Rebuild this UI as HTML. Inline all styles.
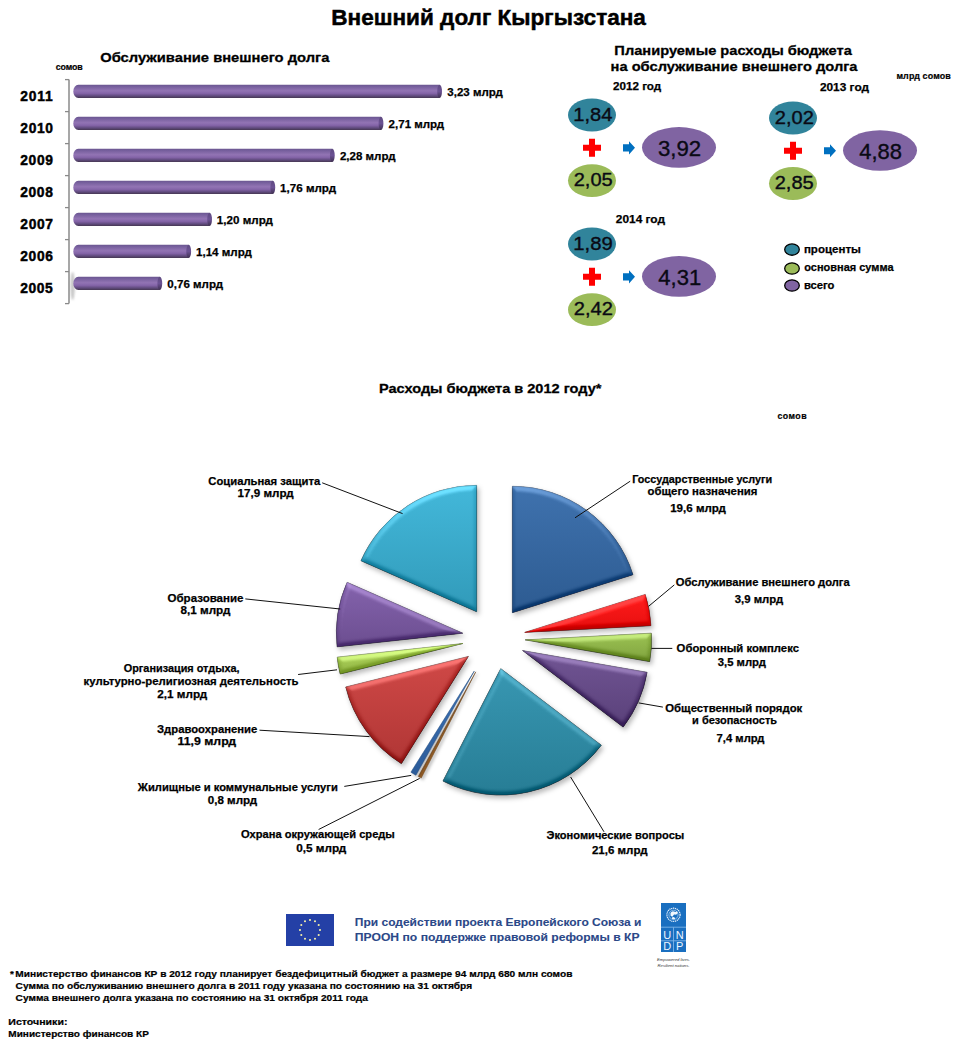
<!DOCTYPE html>
<html><head><meta charset="utf-8"><title>Внешний долг Кыргызстана</title>
<style>html,body{margin:0;padding:0;background:#fff;} body{width:970px;height:1050px;overflow:hidden;font-family:"Liberation Sans",sans-serif;} svg{display:block;}</style>
</head><body>
<svg width="970" height="1050" viewBox="0 0 970 1050" font-family="Liberation Sans, sans-serif">
<defs>
<linearGradient id="barg" x1="0" y1="0" x2="0" y2="1">
 <stop offset="0" stop-color="#6a5690"/><stop offset="0.12" stop-color="#755e9c"/>
 <stop offset="0.45" stop-color="#9274b4"/><stop offset="0.65" stop-color="#8464a8"/>
 <stop offset="0.85" stop-color="#5f4a7c"/><stop offset="1" stop-color="#463752"/>
</linearGradient>
<linearGradient id="capg" x1="0" y1="0" x2="0" y2="1">
 <stop offset="0" stop-color="#5e4a80"/><stop offset="0.5" stop-color="#6c5294"/><stop offset="1" stop-color="#3f3050"/>
</linearGradient>
<filter id="sblur" x="-200%" y="-50%" width="500%" height="200%"><feGaussianBlur stdDeviation="1.2"/></filter>
<filter id="bv" filterUnits="userSpaceOnUse" x="300" y="440" width="400" height="420" color-interpolation-filters="sRGB">
  <feGaussianBlur in="SourceAlpha" stdDeviation="2.6" result="blur"/>
  <feDiffuseLighting in="blur" surfaceScale="5" diffuseConstant="0.707" lighting-color="#fff" result="diff">
    <feDistantLight azimuth="265" elevation="45"/>
  </feDiffuseLighting>
  <feComponentTransfer in="diff" result="diff2">
    <feFuncR type="table" tableValues="0.36 0.5 0.92"/>
    <feFuncG type="table" tableValues="0.36 0.5 0.92"/>
    <feFuncB type="table" tableValues="0.36 0.5 0.92"/>
  </feComponentTransfer>
  <feComposite in="SourceGraphic" in2="diff2" operator="arithmetic" k1="0" k2="1" k3="1" k4="-0.5" result="lit"/>
  <feComposite in="lit" in2="SourceAlpha" operator="in" result="litIn"/>
  <feGaussianBlur in="SourceAlpha" stdDeviation="2.5" result="sb"/>
  <feOffset in="sb" dx="1.5" dy="3" result="so"/>
  <feFlood flood-color="#000" flood-opacity="0.28"/>
  <feComposite in2="so" operator="in" result="shadow"/>
  <feMerge><feMergeNode in="shadow"/><feMergeNode in="litIn"/></feMerge>
</filter>
<filter id="bvs" filterUnits="userSpaceOnUse" x="300" y="440" width="400" height="420" color-interpolation-filters="sRGB">
  <feGaussianBlur in="SourceAlpha" stdDeviation="1.5" result="sb"/>
  <feOffset in="sb" dx="1.5" dy="2" result="so"/>
  <feFlood flood-color="#000" flood-opacity="0.25"/>
  <feComposite in2="so" operator="in" result="shadow"/>
  <feMerge><feMergeNode in="shadow"/><feMergeNode in="SourceGraphic"/></feMerge>
</filter>
<linearGradient id="g_gos" x1="0" y1="0" x2="0" y2="1"><stop offset="0" stop-color="#3f72ae"/><stop offset="1" stop-color="#2d5b91"/></linearGradient><linearGradient id="g_debt" x1="0" y1="0" x2="0" y2="1"><stop offset="0" stop-color="#ff1c1c"/><stop offset="1" stop-color="#e50e0e"/></linearGradient><linearGradient id="g_def" x1="0" y1="0" x2="0" y2="1"><stop offset="0" stop-color="#9bc252"/><stop offset="1" stop-color="#80a33f"/></linearGradient><linearGradient id="g_ord" x1="0" y1="0" x2="0" y2="1"><stop offset="0" stop-color="#715594"/><stop offset="1" stop-color="#5a417a"/></linearGradient><linearGradient id="g_eco" x1="0" y1="0" x2="0" y2="1"><stop offset="0" stop-color="#3897b2"/><stop offset="1" stop-color="#277d95"/></linearGradient><linearGradient id="g_env" x1="0" y1="0" x2="0" y2="1"><stop offset="0" stop-color="#ac7236"/><stop offset="1" stop-color="#905b25"/></linearGradient><linearGradient id="g_hou" x1="0" y1="0" x2="0" y2="1"><stop offset="0" stop-color="#3c72b6"/><stop offset="1" stop-color="#2b5b99"/></linearGradient><linearGradient id="g_hea" x1="0" y1="0" x2="0" y2="1"><stop offset="0" stop-color="#d04947"/><stop offset="1" stop-color="#b03635"/></linearGradient><linearGradient id="g_rec" x1="0" y1="0" x2="0" y2="1"><stop offset="0" stop-color="#b2d95c"/><stop offset="1" stop-color="#95b848"/></linearGradient><linearGradient id="g_edu" x1="0" y1="0" x2="0" y2="1"><stop offset="0" stop-color="#8463ad"/><stop offset="1" stop-color="#6c4e90"/></linearGradient><linearGradient id="g_soc" x1="0" y1="0" x2="0" y2="1"><stop offset="0" stop-color="#43b8da"/><stop offset="1" stop-color="#319ab9"/></linearGradient></defs>
<rect width="970" height="1050" fill="#fff"/>
<ellipse cx="72.6" cy="286" rx="2.2" ry="14" fill="#9a9a9a" opacity="0.55" filter="url(#sblur)"/>
<path d="M69,79.6 L69,303.6" stroke="#8a8a8a" stroke-width="1.5" fill="none"/>
<path d="M65,79.6 L69,79.6" stroke="#8a8a8a" stroke-width="1.3"/>
<path d="M65,111.6 L69,111.6" stroke="#8a8a8a" stroke-width="1.3"/>
<path d="M65,143.6 L69,143.6" stroke="#8a8a8a" stroke-width="1.3"/>
<path d="M65,175.6 L69,175.6" stroke="#8a8a8a" stroke-width="1.3"/>
<path d="M65,207.6 L69,207.6" stroke="#8a8a8a" stroke-width="1.3"/>
<path d="M65,239.6 L69,239.6" stroke="#8a8a8a" stroke-width="1.3"/>
<path d="M65,271.6 L69,271.6" stroke="#8a8a8a" stroke-width="1.3"/>
<path d="M65,303.6 L69,303.6" stroke="#8a8a8a" stroke-width="1.3"/>
<path d="M78.3,84.8 L439.6,84.8 L439.6,98.0 L78.3,98.0 A5,6.6 0 0 1 78.3,84.8 Z" fill="url(#barg)"/>
<ellipse cx="439.6" cy="91.4" rx="2.4" ry="6.6" fill="url(#capg)"/>
<path d="M78.3,116.8 L381.0,116.8 L381.0,130.0 L78.3,130.0 A5,6.6 0 0 1 78.3,116.8 Z" fill="url(#barg)"/>
<ellipse cx="381.0" cy="123.4" rx="2.4" ry="6.6" fill="url(#capg)"/>
<path d="M78.3,148.8 L332.3,148.8 L332.3,162.0 L78.3,162.0 A5,6.6 0 0 1 78.3,148.8 Z" fill="url(#barg)"/>
<ellipse cx="332.3" cy="155.4" rx="2.4" ry="6.6" fill="url(#capg)"/>
<path d="M78.3,180.8 L272.8,180.8 L272.8,194.0 L78.3,194.0 A5,6.6 0 0 1 78.3,180.8 Z" fill="url(#barg)"/>
<ellipse cx="272.8" cy="187.4" rx="2.4" ry="6.6" fill="url(#capg)"/>
<path d="M78.3,212.8 L209.6,212.8 L209.6,226.0 L78.3,226.0 A5,6.6 0 0 1 78.3,212.8 Z" fill="url(#barg)"/>
<ellipse cx="209.6" cy="219.4" rx="2.4" ry="6.6" fill="url(#capg)"/>
<path d="M78.3,244.8 L188.7,244.8 L188.7,258.0 L78.3,258.0 A5,6.6 0 0 1 78.3,244.8 Z" fill="url(#barg)"/>
<ellipse cx="188.7" cy="251.4" rx="2.4" ry="6.6" fill="url(#capg)"/>
<path d="M78.3,276.8 L159.8,276.8 L159.8,290.0 L78.3,290.0 A5,6.6 0 0 1 78.3,276.8 Z" fill="url(#barg)"/>
<ellipse cx="159.8" cy="283.4" rx="2.4" ry="6.6" fill="url(#capg)"/>
<ellipse cx="592" cy="115" rx="24" ry="16.6" fill="#31849b"/>
<ellipse cx="592" cy="180.6" rx="24" ry="16.4" fill="#9bbb59"/>
<ellipse cx="679" cy="147.4" rx="37" ry="20.3" fill="#8064a2"/>
<path d="M589,138.8 h6 v6 h6 v6 h-6 v6 h-6 v-6 h-6 v-6 h6 Z" fill="#ff0000"/>
<path d="M623,144.20000000000002 h6 v-3 l6,6.6 l-6,6.6 v-3 h-6 Z" fill="#0070c0"/>
<ellipse cx="793" cy="118" rx="24" ry="16.6" fill="#31849b"/>
<ellipse cx="793" cy="183.5" rx="24" ry="16.4" fill="#9bbb59"/>
<ellipse cx="880" cy="150.5" rx="37" ry="20.3" fill="#8064a2"/>
<path d="M790,141.75 h6 v6 h6 v6 h-6 v6 h-6 v-6 h-6 v-6 h6 Z" fill="#ff0000"/>
<path d="M824,147.15 h6 v-3 l6,6.6 l-6,6.6 v-3 h-6 Z" fill="#0070c0"/>
<ellipse cx="592" cy="244" rx="24" ry="16.6" fill="#31849b"/>
<ellipse cx="592" cy="309.7" rx="24" ry="16.4" fill="#9bbb59"/>
<ellipse cx="679" cy="276.4" rx="37" ry="20.3" fill="#8064a2"/>
<path d="M589,267.85 h6 v6 h6 v6 h-6 v6 h-6 v-6 h-6 v-6 h6 Z" fill="#ff0000"/>
<path d="M623,273.25 h6 v-3 l6,6.6 l-6,6.6 v-3 h-6 Z" fill="#0070c0"/>
<ellipse cx="792" cy="249.6" rx="7.3" ry="5.65" fill="#31849b" stroke="#000" stroke-width="1.3"/>
<ellipse cx="792" cy="268.5" rx="7.3" ry="5.65" fill="#9bbb59" stroke="#000" stroke-width="1.3"/>
<ellipse cx="792" cy="285.5" rx="7.3" ry="5.65" fill="#8064a2" stroke="#000" stroke-width="1.3"/>
<path d="M512.37,612.68 L512.37,486.28 A126.4,126.4 0 0 1 632.93,574.71 Z" fill="url(#g_gos)" stroke="#244c80" stroke-width="0.7" filter="url(#bv)"/>
<path d="M524.70,632.40 L645.26,594.43 A126.4,126.4 0 0 1 650.92,625.67 Z" fill="url(#g_debt)" stroke="#b00000" stroke-width="0.7" filter="url(#bv)"/>
<path d="M525.14,639.87 L651.36,633.14 A126.4,126.4 0 0 1 649.66,661.60 Z" fill="url(#g_def)" stroke="#5d7a28" stroke-width="0.7" filter="url(#bv)"/>
<path d="M522.58,650.56 L647.10,672.29 A126.4,126.4 0 0 1 623.16,727.12 Z" fill="url(#g_ord)" stroke="#3f2c5a" stroke-width="0.7" filter="url(#bv)"/>
<path d="M500.74,668.62 L601.32,745.18 A126.4,126.4 0 0 1 442.97,781.05 Z" fill="url(#g_eco)" stroke="#1b5d70" stroke-width="0.7" filter="url(#bv)"/>
<path d="M475.72,671.88 L421.24,778.12 A126.4,126.4 0 0 1 418.22,776.52 Z" fill="url(#g_env)" stroke="#6a4018" stroke-width="0.5" filter="url(#bvs)"/>
<path d="M474.28,671.07 L415.91,775.23 A126.4,126.4 0 0 1 410.86,772.24 Z" fill="url(#g_hou)" stroke="#20487a" stroke-width="0.5" filter="url(#bvs)"/>
<path d="M468.39,656.45 L401.40,763.64 A126.4,126.4 0 0 1 345.73,686.96 Z" fill="url(#g_hea)" stroke="#8a2422" stroke-width="0.7" filter="url(#bv)"/>
<path d="M462.88,643.50 L340.22,674.01 A126.4,126.4 0 0 1 337.22,657.14 Z" fill="url(#g_rec)" stroke="#6f8f2c" stroke-width="0.7" filter="url(#bv)"/>
<path d="M462.77,633.20 L337.11,646.85 A126.4,126.4 0 0 1 347.09,582.25 Z" fill="url(#g_edu)" stroke="#4d3670" stroke-width="0.7" filter="url(#bv)"/>
<path d="M476.65,611.70 L360.97,560.75 A126.4,126.4 0 0 1 476.65,485.30 Z" fill="url(#g_soc)" stroke="#1f7a94" stroke-width="0.7" filter="url(#bv)"/>
<path d="M322.2,482.8 L402.6,513.6" stroke="#111" stroke-width="1" fill="none"/>
<path d="M245.3,598.9 L340.2,609" stroke="#111" stroke-width="1" fill="none"/>
<path d="M298.1,674.5 L337,669.8" stroke="#111" stroke-width="1" fill="none"/>
<path d="M259.5,730.2 L369.5,736.6" stroke="#111" stroke-width="1" fill="none"/>
<path d="M344.3,786.4 L411.2,775.4" stroke="#111" stroke-width="1" fill="none"/>
<path d="M318.6,829.5 L419.7,778.4" stroke="#111" stroke-width="1" fill="none"/>
<path d="M570.6,777 L604,831.8" stroke="#111" stroke-width="1" fill="none"/>
<path d="M575,517.8 L630.2,481.2" stroke="#111" stroke-width="1" fill="none"/>
<path d="M648.6,606.3 L674.3,584.9" stroke="#111" stroke-width="1" fill="none"/>
<path d="M651.4,648.4 L672.3,648.4" stroke="#111" stroke-width="1" fill="none"/>
<path d="M638.6,702.9 L662.9,707.1" stroke="#111" stroke-width="1" fill="none"/>
<rect x="286" y="914" width="48" height="32" fill="#2440a6"/>
<circle cx="310.0" cy="920.0" r="1.05" fill="#f4f0a8"/>
<circle cx="315.0" cy="921.3" r="1.05" fill="#f4f0a8"/>
<circle cx="318.7" cy="925.0" r="1.05" fill="#f4f0a8"/>
<circle cx="320.0" cy="930.0" r="1.05" fill="#f4f0a8"/>
<circle cx="318.7" cy="935.0" r="1.05" fill="#f4f0a8"/>
<circle cx="315.0" cy="938.7" r="1.05" fill="#f4f0a8"/>
<circle cx="310.0" cy="940.0" r="1.05" fill="#f4f0a8"/>
<circle cx="305.0" cy="938.7" r="1.05" fill="#f4f0a8"/>
<circle cx="301.3" cy="935.0" r="1.05" fill="#f4f0a8"/>
<circle cx="300.0" cy="930.0" r="1.05" fill="#f4f0a8"/>
<circle cx="301.3" cy="925.0" r="1.05" fill="#f4f0a8"/>
<circle cx="305.0" cy="921.3" r="1.05" fill="#f4f0a8"/>
<rect x="661" y="903" width="25" height="49" fill="#1a6fc0"/>
<path d="M661,927.2 H686 M661,940.8 H686 M673.5,927.2 V952" stroke="#7fb4e8" stroke-width="0.9"/>
<circle cx="673.5" cy="914.8" r="6.6" fill="none" stroke="#e6f0fb" stroke-width="1.3" stroke-dasharray="1.2 0.7"/>
<circle cx="673.5" cy="914.8" r="4.6" fill="none" stroke="#cfe2f6" stroke-width="0.6"/>
<path d="M670.5,913 q1.5,-2.5 3.5,-1.5 q2,1 3,-0.5 l0.8,2 q-1.2,2.2 -2.8,1.6 q-1.6,-0.6 -2,1.6 q-1.6,0.6 -2.5,-0.8 z" fill="#f2f7fd"/>
<path d="M672,917.5 q1.2,-1 2.6,0 l0.6,1.4 q-1.6,0.8 -3.2,-0.2 z" fill="#f2f7fd"/>
<text x="667.3" y="938.6" font-size="11" fill="#eef5ff" text-anchor="middle">U</text>
<text x="679.7" y="938.6" font-size="11" fill="#eef5ff" text-anchor="middle">N</text>
<text x="667.3" y="950.4" font-size="11" fill="#eef5ff" text-anchor="middle">D</text>
<text x="679.7" y="950.4" font-size="11" fill="#eef5ff" text-anchor="middle">P</text>
<text x="673.5" y="961" font-size="4.2" font-style="italic" fill="#333" text-anchor="middle">Empowered lives.</text>
<text x="673.5" y="966.5" font-size="4.2" font-style="italic" fill="#333" text-anchor="middle">Resilient nations.</text>
<text x="331.30" y="24.90" font-size="22.4" font-weight="bold" fill="#000" textLength="314.56" lengthAdjust="spacingAndGlyphs"  stroke="#000" stroke-width="0.49">Внешний долг Кыргызстана</text>
<text x="100.24" y="61.60" font-size="13.7" font-weight="bold" fill="#000" textLength="229.17" lengthAdjust="spacingAndGlyphs"  stroke="#000" stroke-width="0.30">Обслуживание внешнего долга</text>
<text x="55.66" y="70.00" font-size="8.8" font-weight="bold" fill="#000" textLength="26.99" lengthAdjust="spacing"  stroke="#000" stroke-width="0.19">сомов</text>
<text x="20.32" y="100.60" font-size="13.8" font-weight="bold" fill="#000" textLength="32.46" lengthAdjust="spacing" stroke="#000" stroke-width="0.45">2011</text>
<text x="447.34" y="96.00" font-size="11.4" font-weight="bold" fill="#000" textLength="55.47" lengthAdjust="spacingAndGlyphs"  stroke="#000" stroke-width="0.25">3,23 млрд</text>
<text x="20.32" y="132.60" font-size="13.8" font-weight="bold" fill="#000" textLength="32.64" lengthAdjust="spacing" stroke="#000" stroke-width="0.45">2010</text>
<text x="388.60" y="128.00" font-size="11.4" font-weight="bold" fill="#000" textLength="55.61" lengthAdjust="spacingAndGlyphs"  stroke="#000" stroke-width="0.25">2,71 млрд</text>
<text x="20.32" y="164.60" font-size="13.8" font-weight="bold" fill="#000" textLength="32.59" lengthAdjust="spacing" stroke="#000" stroke-width="0.45">2009</text>
<text x="339.90" y="160.00" font-size="11.4" font-weight="bold" fill="#000" textLength="55.61" lengthAdjust="spacingAndGlyphs"  stroke="#000" stroke-width="0.25">2,28 млрд</text>
<text x="20.32" y="196.60" font-size="13.8" font-weight="bold" fill="#000" textLength="32.50" lengthAdjust="spacing" stroke="#000" stroke-width="0.45">2008</text>
<text x="280.08" y="192.00" font-size="11.4" font-weight="bold" fill="#000" textLength="55.93" lengthAdjust="spacingAndGlyphs"  stroke="#000" stroke-width="0.25">1,76 млрд</text>
<text x="20.32" y="228.60" font-size="13.8" font-weight="bold" fill="#000" textLength="32.68" lengthAdjust="spacing" stroke="#000" stroke-width="0.45">2007</text>
<text x="216.88" y="224.00" font-size="11.4" font-weight="bold" fill="#000" textLength="55.93" lengthAdjust="spacingAndGlyphs"  stroke="#000" stroke-width="0.25">1,20 млрд</text>
<text x="20.32" y="260.60" font-size="13.8" font-weight="bold" fill="#000" textLength="32.58" lengthAdjust="spacing" stroke="#000" stroke-width="0.45">2006</text>
<text x="195.98" y="256.00" font-size="11.4" font-weight="bold" fill="#000" textLength="55.93" lengthAdjust="spacingAndGlyphs"  stroke="#000" stroke-width="0.25">1,14 млрд</text>
<text x="20.32" y="292.60" font-size="13.8" font-weight="bold" fill="#000" textLength="32.46" lengthAdjust="spacing" stroke="#000" stroke-width="0.45">2005</text>
<text x="167.35" y="288.00" font-size="11.4" font-weight="bold" fill="#000" textLength="55.66" lengthAdjust="spacingAndGlyphs"  stroke="#000" stroke-width="0.25">0,76 млрд</text>
<text x="614.38" y="55.00" font-size="13.7" font-weight="bold" fill="#000" textLength="237.43" lengthAdjust="spacingAndGlyphs"  stroke="#000" stroke-width="0.30">Планируемые расходы бюджета</text>
<text x="610.54" y="70.80" font-size="13.7" font-weight="bold" fill="#000" textLength="246.97" lengthAdjust="spacingAndGlyphs"  stroke="#000" stroke-width="0.30">на обслуживание внешнего долга</text>
<text x="896.38" y="79.20" font-size="8.9" font-weight="bold" fill="#000" textLength="54.37" lengthAdjust="spacing"  stroke="#000" stroke-width="0.20">млрд сомов</text>
<text x="613.01" y="89.90" font-size="11.2" font-weight="bold" fill="#000" textLength="48.20" lengthAdjust="spacingAndGlyphs"  stroke="#000" stroke-width="0.25">2012 год</text>
<text x="819.91" y="90.80" font-size="11.2" font-weight="bold" fill="#000" textLength="49.10" lengthAdjust="spacingAndGlyphs"  stroke="#000" stroke-width="0.25">2013 год</text>
<text x="615.81" y="222.70" font-size="11.2" font-weight="bold" fill="#000" textLength="49.20" lengthAdjust="spacingAndGlyphs"  stroke="#000" stroke-width="0.25">2014 год</text>
<text x="573.26" y="120.70" font-size="18.3" font-weight="normal" fill="#0a0a14" textLength="39.23" lengthAdjust="spacingAndGlyphs" stroke="#0a0a14" stroke-width="0.35">1,84</text>
<text x="573.73" y="186.30" font-size="18.3" font-weight="normal" fill="#0a0a14" textLength="38.99" lengthAdjust="spacingAndGlyphs" stroke="#0a0a14" stroke-width="0.35">2,05</text>
<text x="657.98" y="155.80" font-size="21.6" font-weight="normal" fill="#0a0a14" textLength="43.21" lengthAdjust="spacingAndGlyphs" stroke="#0a0a14" stroke-width="0.35">3,92</text>
<text x="774.73" y="123.70" font-size="18.3" font-weight="normal" fill="#0a0a14" textLength="39.14" lengthAdjust="spacingAndGlyphs" stroke="#0a0a14" stroke-width="0.35">2,02</text>
<text x="774.73" y="189.20" font-size="18.3" font-weight="normal" fill="#0a0a14" textLength="38.99" lengthAdjust="spacingAndGlyphs" stroke="#0a0a14" stroke-width="0.35">2,85</text>
<text x="859.30" y="158.90" font-size="21.6" font-weight="normal" fill="#0a0a14" textLength="42.73" lengthAdjust="spacingAndGlyphs" stroke="#0a0a14" stroke-width="0.35">4,88</text>
<text x="573.26" y="249.70" font-size="18.3" font-weight="normal" fill="#0a0a14" textLength="39.56" lengthAdjust="spacingAndGlyphs" stroke="#0a0a14" stroke-width="0.35">1,89</text>
<text x="573.73" y="315.40" font-size="18.3" font-weight="normal" fill="#0a0a14" textLength="39.14" lengthAdjust="spacingAndGlyphs" stroke="#0a0a14" stroke-width="0.35">2,42</text>
<text x="658.30" y="284.80" font-size="21.6" font-weight="normal" fill="#0a0a14" textLength="42.85" lengthAdjust="spacingAndGlyphs" stroke="#0a0a14" stroke-width="0.35">4,31</text>
<text x="803.92" y="252.80" font-size="11.2" font-weight="bold" fill="#000" textLength="56.96" lengthAdjust="spacingAndGlyphs"  stroke="#000" stroke-width="0.25">проценты</text>
<text x="804.26" y="270.80" font-size="11.2" font-weight="bold" fill="#000" textLength="89.27" lengthAdjust="spacingAndGlyphs"  stroke="#000" stroke-width="0.25">основная сумма</text>
<text x="803.92" y="288.90" font-size="11.2" font-weight="bold" fill="#000" textLength="30.52" lengthAdjust="spacingAndGlyphs"  stroke="#000" stroke-width="0.25">всего</text>
<text x="378.98" y="393.00" font-size="13.7" font-weight="bold" fill="#000" textLength="222.43" lengthAdjust="spacingAndGlyphs"  stroke="#000" stroke-width="0.30">Расходы бюджета в 2012 году*</text>
<text x="777.56" y="419.10" font-size="8.8" font-weight="bold" fill="#000" textLength="28.99" lengthAdjust="spacing"  stroke="#000" stroke-width="0.19">сомов</text>
<text x="208.34" y="484.80" font-size="11.2" font-weight="bold" fill="#000" textLength="111.89" lengthAdjust="spacingAndGlyphs"  stroke="#000" stroke-width="0.25">Социальная защита</text>
<text x="237.59" y="497.00" font-size="11.2" font-weight="bold" fill="#000" textLength="56.11" lengthAdjust="spacingAndGlyphs"  stroke="#000" stroke-width="0.25">17,9 млрд</text>
<text x="167.54" y="601.80" font-size="11.2" font-weight="bold" fill="#000" textLength="75.94" lengthAdjust="spacingAndGlyphs"  stroke="#000" stroke-width="0.25">Образование</text>
<text x="180.54" y="614.20" font-size="11.2" font-weight="bold" fill="#000" textLength="49.86" lengthAdjust="spacingAndGlyphs"  stroke="#000" stroke-width="0.25">8,1 млрд</text>
<text x="123.74" y="672.40" font-size="11.2" font-weight="bold" fill="#000" textLength="115.81" lengthAdjust="spacingAndGlyphs"  stroke="#000" stroke-width="0.25">Организация отдыха,</text>
<text x="83.62" y="684.80" font-size="11.2" font-weight="bold" fill="#000" textLength="214.94" lengthAdjust="spacingAndGlyphs"  stroke="#000" stroke-width="0.25">культурно-религиозная деятельность</text>
<text x="157.31" y="697.80" font-size="11.2" font-weight="bold" fill="#000" textLength="50.00" lengthAdjust="spacingAndGlyphs"  stroke="#000" stroke-width="0.25">2,1 млрд</text>
<text x="157.05" y="732.60" font-size="11.2" font-weight="bold" fill="#000" textLength="100.23" lengthAdjust="spacingAndGlyphs"  stroke="#000" stroke-width="0.25">Здравоохранение</text>
<text x="177.59" y="744.80" font-size="11.2" font-weight="bold" fill="#000" textLength="58.61" lengthAdjust="spacingAndGlyphs"  stroke="#000" stroke-width="0.25">11,9 млрд</text>
<text x="137.83" y="790.80" font-size="11.2" font-weight="bold" fill="#000" textLength="199.94" lengthAdjust="spacingAndGlyphs"  stroke="#000" stroke-width="0.25">Жилищные и коммунальные услуги</text>
<text x="207.76" y="804.00" font-size="11.2" font-weight="bold" fill="#000" textLength="49.45" lengthAdjust="spacingAndGlyphs"  stroke="#000" stroke-width="0.25">0,8 млрд</text>
<text x="240.94" y="838.00" font-size="11.2" font-weight="bold" fill="#000" textLength="153.94" lengthAdjust="spacingAndGlyphs"  stroke="#000" stroke-width="0.25">Охрана окружающей среды</text>
<text x="296.16" y="851.80" font-size="11.2" font-weight="bold" fill="#000" textLength="50.15" lengthAdjust="spacingAndGlyphs"  stroke="#000" stroke-width="0.25">0,5 млрд</text>
<text x="546.50" y="838.70" font-size="11.2" font-weight="bold" fill="#000" textLength="137.78" lengthAdjust="spacingAndGlyphs"  stroke="#000" stroke-width="0.25">Экономические вопросы</text>
<text x="591.91" y="853.90" font-size="11.2" font-weight="bold" fill="#000" textLength="55.60" lengthAdjust="spacingAndGlyphs"  stroke="#000" stroke-width="0.25">21,6 млрд</text>
<text x="632.15" y="482.70" font-size="11.2" font-weight="bold" fill="#000" textLength="140.03" lengthAdjust="spacingAndGlyphs"  stroke="#000" stroke-width="0.25">Госсударственные услуги</text>
<text x="647.56" y="494.60" font-size="11.2" font-weight="bold" fill="#000" textLength="109.82" lengthAdjust="spacingAndGlyphs"  stroke="#000" stroke-width="0.25">общего назначения</text>
<text x="670.19" y="512.00" font-size="11.2" font-weight="bold" fill="#000" textLength="55.71" lengthAdjust="spacingAndGlyphs"  stroke="#000" stroke-width="0.25">19,6 млрд</text>
<text x="675.74" y="586.30" font-size="11.2" font-weight="bold" fill="#000" textLength="173.99" lengthAdjust="spacingAndGlyphs"  stroke="#000" stroke-width="0.25">Обслуживание внешнего долга</text>
<text x="734.74" y="602.90" font-size="11.2" font-weight="bold" fill="#000" textLength="48.46" lengthAdjust="spacingAndGlyphs"  stroke="#000" stroke-width="0.25">3,9 млрд</text>
<text x="676.64" y="651.70" font-size="11.2" font-weight="bold" fill="#000" textLength="122.29" lengthAdjust="spacingAndGlyphs"  stroke="#000" stroke-width="0.25">Оборонный комплекс</text>
<text x="717.74" y="665.70" font-size="11.2" font-weight="bold" fill="#000" textLength="48.16" lengthAdjust="spacingAndGlyphs"  stroke="#000" stroke-width="0.25">3,5 млрд</text>
<text x="665.24" y="711.50" font-size="11.2" font-weight="bold" fill="#000" textLength="137.05" lengthAdjust="spacingAndGlyphs"  stroke="#000" stroke-width="0.25">Общественный порядок</text>
<text x="692.12" y="723.50" font-size="11.2" font-weight="bold" fill="#000" textLength="84.94" lengthAdjust="spacingAndGlyphs"  stroke="#000" stroke-width="0.25">и безопасность</text>
<text x="716.62" y="741.70" font-size="11.2" font-weight="bold" fill="#000" textLength="47.89" lengthAdjust="spacingAndGlyphs"  stroke="#000" stroke-width="0.25">7,4 млрд</text>
<text x="354.83" y="926.10" font-size="11.5" font-weight="bold" fill="#2b4888" textLength="286.67" lengthAdjust="spacingAndGlyphs" stroke="#2b4888" stroke-width="0.1">При содействии проекта Европейского Союза и</text>
<text x="354.83" y="940.90" font-size="11.5" font-weight="bold" fill="#2b4888" textLength="284.76" lengthAdjust="spacingAndGlyphs" stroke="#2b4888" stroke-width="0.1">ПРООН по поддержке правовой реформы в КР</text>
<text x="9.97" y="976.90" font-size="9.9" font-weight="bold" fill="#000" textLength="3.84" lengthAdjust="spacing"  stroke="#000" stroke-width="0.22">*</text>
<text x="15.34" y="976.90" font-size="9.9" font-weight="bold" fill="#000" textLength="557.05" lengthAdjust="spacingAndGlyphs"  stroke="#000" stroke-width="0.22">Министерство финансов КР в 2012 году планирует бездефицитный бюджет а размере 94 млрд 680 млн сомов</text>
<text x="15.59" y="989.00" font-size="9.9" font-weight="bold" fill="#000" textLength="456.50" lengthAdjust="spacingAndGlyphs"  stroke="#000" stroke-width="0.22">Сумма по обслуживанию внешнего долга в 2011 году указана по состоянию на 31 октября</text>
<text x="15.59" y="1000.90" font-size="9.9" font-weight="bold" fill="#000" textLength="352.34" lengthAdjust="spacingAndGlyphs"  stroke="#000" stroke-width="0.22">Сумма внешнего долга указана по состоянию на 31 октября 2011 года</text>
<text x="8.34" y="1025.00" font-size="9.9" font-weight="bold" fill="#000" textLength="59.11" lengthAdjust="spacingAndGlyphs"  stroke="#000" stroke-width="0.22">Источники:</text>
<text x="8.34" y="1036.80" font-size="9.9" font-weight="bold" fill="#000" textLength="140.50" lengthAdjust="spacingAndGlyphs"  stroke="#000" stroke-width="0.22">Министерство финансов КР</text>
</svg>
</body></html>
